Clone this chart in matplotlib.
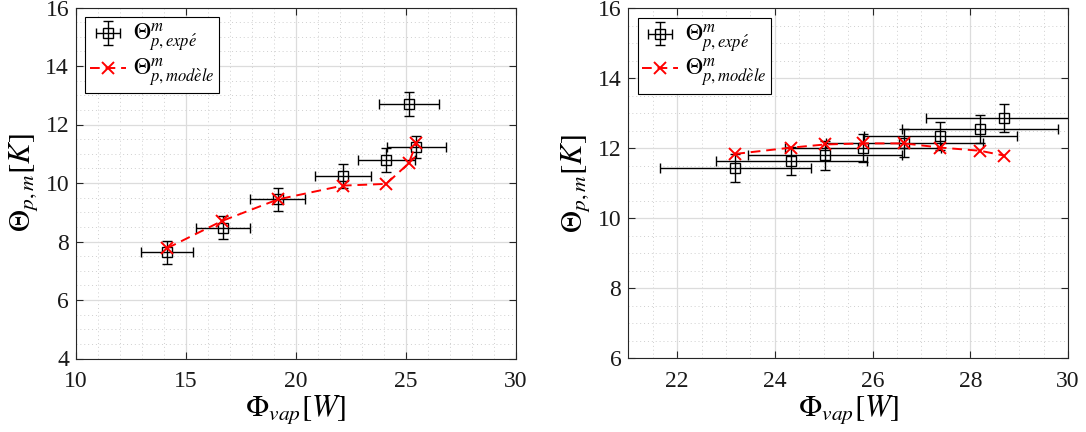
import matplotlib
matplotlib.use("Agg")
import matplotlib.pyplot as plt
from matplotlib.ticker import MultipleLocator
import numpy as np

plt.rcParams['font.family'] = ['Liberation Serif', 'DejaVu Serif']
plt.rcParams['mathtext.fontset'] = 'stix'

# Left panel data
phi_exp_L = [14.14, 16.68, 19.18, 22.12, 24.10, 25.12, 25.47]
theta_exp_L = [7.63, 8.47, 9.44, 10.24, 10.78, 12.69, 11.22]
phi_err_L = [1.17, 1.22, 1.25, 1.27, 1.29, 1.37, 1.35]
theta_err_L = [0.39, 0.40, 0.40, 0.40, 0.40, 0.41, 0.38]
phi_mod_L = [14.14, 16.63, 19.18, 22.12, 24.10, 25.12, 25.47]
theta_mod_L = [7.77, 8.70, 9.44, 9.91, 9.97, 10.67, 11.36]

# Right panel data
phi_exp_R = [23.19, 24.34, 25.03, 25.81, 26.65, 27.39, 28.20, 28.70]
theta_exp_R = [11.43, 11.63, 11.80, 12.00, 12.14, 12.36, 12.55, 12.87]
phi_err_R = [1.54, 1.54, 1.57, 1.60, 1.60, 1.57, 1.60, 1.60]
theta_err_R = [0.40, 0.40, 0.42, 0.40, 0.40, 0.40, 0.39, 0.40]
phi_mod_R = [23.19, 24.34, 25.03, 25.81, 26.65, 27.39, 28.20, 28.70]
theta_mod_R = [11.84, 12.02, 12.11, 12.14, 12.14, 12.02, 11.93, 11.79]

W, H = 1086, 432
fig = plt.figure(figsize=(W/100, H/100), dpi=100)

def make_ax(x0, x1, y0, y1):
    return fig.add_axes([x0/W, 1 - y1/H, (x1-x0)/W, (y1-y0)/H])

axL = make_ax(76, 516, 7.5, 358.5)
axR = make_ax(628.3, 1068, 8.3, 358.3)

def draw(ax, px, py, pxe, pye, mx, my, xlim, ylim, xmaj, xmin, ymaj, ymin):
    eb = ax.errorbar(px, py, xerr=pxe, yerr=pye, fmt='s', mfc='none', mec='black',
                     ms=7.5, mew=1.0, ecolor='black', elinewidth=1.0, capsize=3.5,
                     capthick=1.0, label=r'$\Theta^{m}_{p,exp\acute{e}}$', zorder=3)
    ln, = ax.plot(mx, my, color='red', ls=(0, (5, 3)), lw=1.4, marker='x', ms=9,
                  mew=1.4, label=r'$\Theta^{m}_{p,mod\grave{e}le}$', zorder=4)
    ax.set_xlim(*xlim)
    ax.set_ylim(*ylim)
    ax.xaxis.set_major_locator(MultipleLocator(xmaj))
    ax.xaxis.set_minor_locator(MultipleLocator(xmin))
    ax.yaxis.set_major_locator(MultipleLocator(ymaj))
    ax.yaxis.set_minor_locator(MultipleLocator(ymin))
    ax.grid(which='major', color='#dcdcdc', lw=0.9, ls='-')
    ax.grid(which='minor', color='#cfcfcf', lw=0.7, ls=(0, (1, 3)))
    ax.set_axisbelow(True)
    ax.tick_params(which='both', direction='in', top=True, right=True,
                   labelsize=17, color='#262626', labelcolor='#1a1a1a')
    ax.tick_params(axis='x', which='major', pad=9)
    ax.tick_params(axis='y', which='major', pad=5)
    ax.tick_params(which='major', length=5)
    ax.tick_params(which='minor', length=0)
    for s in ax.spines.values():
        s.set_color('#262626')
        s.set_linewidth(0.8)
    ax.set_xlabel(r'$\Phi_{vap}[W]$', fontsize=22, labelpad=1)
    ax.set_ylabel(r'$\Theta_{p,m}[K]$', fontsize=22, labelpad=4)
    leg = ax.legend([eb, ln], [eb.get_label(), ln.get_label()],
                    loc='upper left', fontsize=17, frameon=True, fancybox=False,
                    edgecolor='black', framealpha=1, handlelength=1.5,
                    handletextpad=0.3, borderpad=0.2, labelspacing=0.1,
                    borderaxespad=0.4)
    leg.get_frame().set_linewidth(0.8)

draw(axL, phi_exp_L, theta_exp_L, phi_err_L, theta_err_L, phi_mod_L, theta_mod_L,
     (10, 30), (4, 16), 5, 1, 2, 0.5)
draw(axR, phi_exp_R, theta_exp_R, phi_err_R, theta_err_R, phi_mod_R, theta_mod_R,
     (21, 30), (6, 16), 2, 0.5, 2, 0.5)

fig.savefig('out.png', dpi=100)
